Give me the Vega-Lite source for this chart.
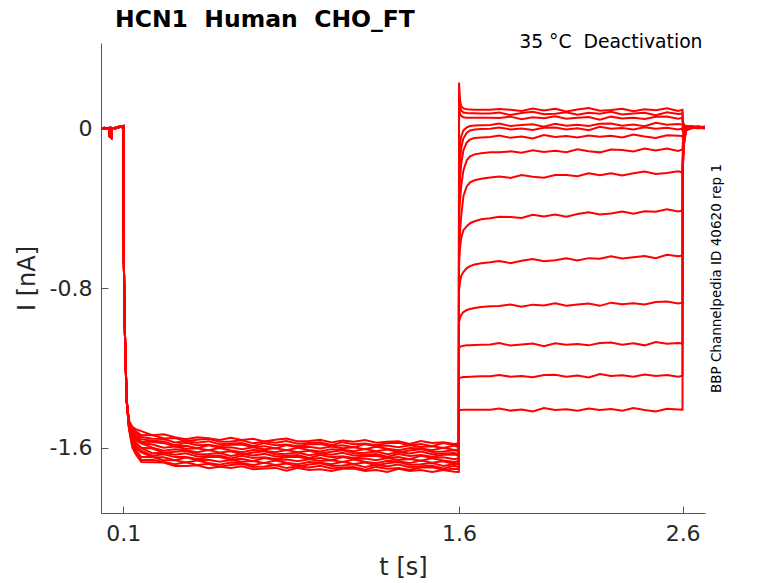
{
  "$schema": "https://vega.github.io/schema/vega-lite/v6.json",
  "width": 604,
  "height": 470,
  "autosize": {"type": "none"},
  "padding": {"left": 101, "top": 43, "right": 73, "bottom": 70},
  "background": "white",
  "config": {"view": {"stroke": null}, "font": "DejaVu Sans"},
  "title": {"text": "HCN1\u00a0\u00a0Human\u00a0\u00a0CHO_FT", "anchor": "start", "frame": "group", "dx": 14, "offset": 1, "fontSize": 23.5, "fontWeight": "bold", "font": "DejaVu Sans", "color": "#000000"},
  "resolve": {"axis": {"y": "independent"}},
  "layer": [
    {
      "data": {"values": [
        {"s": 1, "t": [0,0.015,0.03,0.037,0.039,0.046,0.048,0.065,0.08,0.092,0.0995,0.102,0.107,0.1145,0.125,0.14,0.155,0.18,0.23,0.28,0.33,0.38,0.43,0.48,0.53,0.58,0.63,0.68,0.73,0.78,0.83,0.88,0.93,0.98,1.03,1.08,1.13,1.18,1.23,1.28,1.33,1.38,1.43,1.48,1.53,1.58,1.5995,1.6005,1.605,1.61,1.62,1.635,1.65,1.67,1.7,1.74,1.78,1.83,1.88,1.93,1.98,2.03,2.08,2.13,2.18,2.23,2.28,2.33,2.38,2.43,2.48,2.53,2.58,2.5995,2.6005,2.605,2.615,2.64,2.67,2.7],
         "i": [0.002,-0.003,0.002,0,-0.04,-0.042,0,0.004,0.006,0.01,0.008,-0.66,-1.03,-1.36,-1.465,-1.495,-1.507,-1.517,-1.537,-1.532,-1.547,-1.557,-1.547,-1.552,-1.561,-1.55,-1.561,-1.555,-1.569,-1.56,-1.554,-1.568,-1.566,-1.56,-1.574,-1.564,-1.57,-1.561,-1.575,-1.57,-1.567,-1.581,-1.566,-1.576,-1.573,-1.581,-1.578,0.23,0.14,0.112,0.1,0.096,0.095,0.094,0.094,0.093,0.097,0.094,0.087,0.1,0.09,0.098,0.085,0.095,0.102,0.089,0.092,0.099,0.086,0.096,0.091,0.101,0.088,0.093,0.04,0.02,0.012,0.008,0.01,0.006]},
        {"s": 2, "t": [0,0.015,0.03,0.037,0.039,0.046,0.048,0.065,0.08,0.092,0.0995,0.102,0.107,0.1145,0.125,0.14,0.155,0.18,0.23,0.28,0.33,0.38,0.43,0.48,0.53,0.58,0.63,0.68,0.73,0.78,0.83,0.88,0.93,0.98,1.03,1.08,1.13,1.18,1.23,1.28,1.33,1.38,1.43,1.48,1.53,1.58,1.5995,1.6005,1.605,1.61,1.62,1.635,1.65,1.67,1.7,1.74,1.78,1.83,1.88,1.93,1.98,2.03,2.08,2.13,2.18,2.23,2.28,2.33,2.38,2.43,2.48,2.53,2.58,2.5995,2.6005,2.605,2.615,2.64,2.67,2.7],
         "i": [-0.002,0.003,-0.001,0.003,-0.036,-0.046,0.003,0,0.009,0.006,0.011,-0.66,-1.03,-1.36,-1.468,-1.503,-1.517,-1.537,-1.536,-1.554,-1.551,-1.567,-1.56,-1.555,-1.57,-1.569,-1.563,-1.578,-1.569,-1.575,-1.566,-1.58,-1.576,-1.573,-1.587,-1.572,-1.582,-1.579,-1.587,-1.576,-1.575,-1.587,-1.581,-1.592,-1.576,-1.587,-1.585,0.17,0.11,0.09,0.08,0.077,0.076,0.076,0.075,0.075,0.08,0.067,0.077,0.084,0.071,0.074,0.081,0.068,0.078,0.073,0.083,0.07,0.075,0.079,0.066,0.081,0.072,0.075,0.03,0.015,0.01,0.012,0.006,0.01]},
        {"s": 3, "t": [0,0.015,0.03,0.037,0.039,0.046,0.048,0.065,0.08,0.092,0.0995,0.102,0.107,0.1145,0.125,0.14,0.155,0.18,0.23,0.28,0.33,0.38,0.43,0.48,0.53,0.58,0.63,0.68,0.73,0.78,0.83,0.88,0.93,0.98,1.03,1.08,1.13,1.18,1.23,1.28,1.33,1.38,1.43,1.48,1.53,1.58,1.5995,1.6005,1.605,1.61,1.62,1.635,1.65,1.67,1.7,1.74,1.78,1.83,1.88,1.93,1.98,2.03,2.08,2.13,2.18,2.23,2.28,2.33,2.38,2.43,2.48,2.53,2.58,2.5995,2.6005,2.605,2.615,2.64,2.67,2.7],
         "i": [0.002,-0.003,0.002,0,-0.04,-0.042,0,0.004,0.006,0.01,0.008,-0.66,-1.03,-1.36,-1.471,-1.511,-1.526,-1.546,-1.555,-1.556,-1.574,-1.567,-1.575,-1.567,-1.582,-1.579,-1.576,-1.591,-1.577,-1.587,-1.584,-1.592,-1.582,-1.581,-1.593,-1.587,-1.598,-1.582,-1.593,-1.589,-1.598,-1.588,-1.596,-1.592,-1.601,-1.589,-1.599,0.11,0.075,0.062,0.056,0.054,0.053,0.053,0.053,0.053,0.052,0.059,0.046,0.056,0.051,0.061,0.048,0.053,0.057,0.044,0.059,0.05,0.054,0.047,0.058,0.06,0.049,0.053,0.02,0.012,0.008,0.004,0.009,0.005]},
        {"s": 4, "t": [0,0.015,0.03,0.037,0.039,0.046,0.048,0.065,0.08,0.092,0.0995,0.102,0.107,0.1145,0.125,0.14,0.155,0.18,0.23,0.28,0.33,0.38,0.43,0.48,0.53,0.58,0.63,0.68,0.73,0.78,0.83,0.88,0.93,0.98,1.03,1.08,1.13,1.18,1.23,1.28,1.33,1.38,1.43,1.48,1.53,1.58,1.5995,1.6005,1.605,1.61,1.62,1.635,1.65,1.67,1.7,1.74,1.78,1.83,1.88,1.93,1.98,2.03,2.08,2.13,2.18,2.23,2.28,2.33,2.38,2.43,2.48,2.53,2.58,2.5995,2.6005,2.605,2.615,2.64,2.67,2.7],
         "i": [-0.002,0.003,-0.001,0.003,-0.036,-0.046,0.003,0,0.009,0.006,0.011,-0.66,-1.03,-1.36,-1.474,-1.519,-1.536,-1.558,-1.565,-1.569,-1.587,-1.575,-1.587,-1.585,-1.594,-1.585,-1.584,-1.597,-1.592,-1.603,-1.587,-1.598,-1.595,-1.604,-1.594,-1.602,-1.598,-1.607,-1.595,-1.605,-1.613,-1.601,-1.604,-1.612,-1.6,-1.611,-1.609,-0.15,-0.08,-0.04,-0.01,0.005,0.012,0.015,0.016,0.017,0.025,0.012,0.017,0.021,0.008,0.023,0.014,0.018,0.012,0.023,0.025,0.014,0.02,0.011,0.028,0.018,0.022,0.019,0,0.006,0.01,0.006,0.002,0.007]},
        {"s": 5, "t": [0,0.015,0.03,0.037,0.039,0.046,0.048,0.065,0.08,0.092,0.0995,0.102,0.107,0.1145,0.125,0.14,0.155,0.18,0.23,0.28,0.33,0.38,0.43,0.48,0.53,0.58,0.63,0.68,0.73,0.78,0.83,0.88,0.93,0.98,1.03,1.08,1.13,1.18,1.23,1.28,1.33,1.38,1.43,1.48,1.53,1.58,1.5995,1.6005,1.605,1.61,1.62,1.635,1.65,1.67,1.7,1.74,1.78,1.83,1.88,1.93,1.98,2.03,2.08,2.13,2.18,2.23,2.28,2.33,2.38,2.43,2.48,2.53,2.58,2.5995,2.6005,2.605,2.615,2.64,2.67,2.7],
         "i": [0.002,-0.003,0.002,0,-0.04,-0.042,0,0.004,0.006,0.01,0.008,-0.66,-1.03,-1.36,-1.477,-1.527,-1.545,-1.57,-1.571,-1.577,-1.593,-1.59,-1.603,-1.588,-1.6,-1.598,-1.607,-1.598,-1.607,-1.603,-1.612,-1.6,-1.611,-1.619,-1.607,-1.61,-1.618,-1.606,-1.617,-1.609,-1.623,-1.614,-1.607,-1.621,-1.619,-1.613,-1.618,-0.25,-0.16,-0.1,-0.05,-0.022,-0.01,-0.005,-0.003,-0.002,0.004,-0.005,-0.001,-0.008,0.003,0.005,-0.005,0.001,-0.009,0.008,-0.002,0.002,-0.005,0.006,-0.002,0.003,-0.005,0,-0.02,0,0.006,0.01,0.004,0.002]},
        {"s": 6, "t": [0,0.015,0.03,0.037,0.039,0.046,0.048,0.065,0.08,0.092,0.0995,0.102,0.107,0.1145,0.125,0.14,0.155,0.18,0.23,0.28,0.33,0.38,0.43,0.48,0.53,0.58,0.63,0.68,0.73,0.78,0.83,0.88,0.93,0.98,1.03,1.08,1.13,1.18,1.23,1.28,1.33,1.38,1.43,1.48,1.53,1.58,1.5995,1.6005,1.605,1.61,1.62,1.635,1.65,1.67,1.7,1.74,1.78,1.83,1.88,1.93,1.98,2.03,2.08,2.13,2.18,2.23,2.28,2.33,2.38,2.43,2.48,2.53,2.58,2.5995,2.6005,2.605,2.615,2.64,2.67,2.7],
         "i": [-0.002,0.003,-0.001,0.003,-0.036,-0.046,0.003,0,0.009,0.006,0.011,-0.66,-1.03,-1.36,-1.48,-1.535,-1.555,-1.576,-1.584,-1.6,-1.594,-1.605,-1.603,-1.613,-1.602,-1.614,-1.622,-1.611,-1.615,-1.623,-1.611,-1.622,-1.615,-1.629,-1.62,-1.613,-1.627,-1.625,-1.619,-1.632,-1.623,-1.629,-1.619,-1.633,-1.629,-1.626,-1.632,-0.35,-0.25,-0.18,-0.11,-0.07,-0.055,-0.048,-0.045,-0.043,-0.036,-0.047,-0.041,-0.05,-0.033,-0.043,-0.038,-0.046,-0.035,-0.042,-0.037,-0.045,-0.031,-0.041,-0.048,-0.034,-0.037,-0.038,-0.05,-0.01,0.004,0.002,0.008,0.004]},
        {"s": 7, "t": [0,0.015,0.03,0.037,0.039,0.046,0.048,0.065,0.08,0.092,0.0995,0.102,0.107,0.1145,0.125,0.14,0.155,0.18,0.23,0.28,0.33,0.38,0.43,0.48,0.53,0.58,0.63,0.68,0.73,0.78,0.83,0.88,0.93,0.98,1.03,1.08,1.13,1.18,1.23,1.28,1.33,1.38,1.43,1.48,1.53,1.58,1.5995,1.6005,1.605,1.61,1.62,1.635,1.65,1.67,1.7,1.74,1.78,1.83,1.88,1.93,1.98,2.03,2.08,2.13,2.18,2.23,2.28,2.33,2.38,2.43,2.48,2.53,2.58,2.5995,2.6005,2.605,2.615,2.64,2.67,2.7],
         "i": [0.002,-0.003,0.002,0,-0.04,-0.042,0,0.004,0.006,0.01,0.008,-0.66,-1.03,-1.36,-1.483,-1.543,-1.564,-1.578,-1.6,-1.615,-1.607,-1.613,-1.623,-1.612,-1.624,-1.618,-1.632,-1.624,-1.618,-1.632,-1.63,-1.624,-1.638,-1.629,-1.635,-1.625,-1.639,-1.635,-1.632,-1.645,-1.631,-1.641,-1.637,-1.645,-1.635,-1.634,-1.64,-0.45,-0.36,-0.29,-0.21,-0.16,-0.14,-0.13,-0.125,-0.12,-0.12,-0.115,-0.122,-0.11,-0.118,-0.112,-0.119,-0.105,-0.114,-0.12,-0.106,-0.108,-0.115,-0.101,-0.11,-0.101,-0.113,-0.105,-0.08,-0.02,0.002,0.007,0.003,0.006]},
        {"s": 8, "t": [0,0.015,0.03,0.037,0.039,0.046,0.048,0.065,0.08,0.092,0.0995,0.102,0.107,0.1145,0.125,0.14,0.155,0.18,0.23,0.28,0.33,0.38,0.43,0.48,0.53,0.58,0.63,0.68,0.73,0.78,0.83,0.88,0.93,0.98,1.03,1.08,1.13,1.18,1.23,1.28,1.33,1.38,1.43,1.48,1.53,1.58,1.5995,1.6005,1.605,1.61,1.62,1.635,1.65,1.67,1.7,1.74,1.78,1.83,1.88,1.93,1.98,2.03,2.08,2.13,2.18,2.23,2.28,2.33,2.38,2.43,2.48,2.53,2.58,2.5995,2.6005,2.605,2.615,2.64,2.67,2.7],
         "i": [-0.002,0.003,-0.001,0.003,-0.036,-0.046,0.003,0,0.009,0.006,0.011,-0.66,-1.03,-1.36,-1.486,-1.551,-1.574,-1.6,-1.604,-1.625,-1.62,-1.616,-1.632,-1.631,-1.626,-1.641,-1.632,-1.639,-1.63,-1.644,-1.64,-1.637,-1.651,-1.637,-1.647,-1.643,-1.651,-1.641,-1.64,-1.651,-1.646,-1.657,-1.64,-1.651,-1.648,-1.657,-1.652,-0.62,-0.52,-0.44,-0.34,-0.29,-0.27,-0.26,-0.252,-0.246,-0.241,-0.248,-0.233,-0.242,-0.247,-0.233,-0.234,-0.24,-0.225,-0.234,-0.225,-0.236,-0.225,-0.216,-0.228,-0.223,-0.215,-0.221,-0.12,-0.04,0,0.004,0.009,0.001]},
        {"s": 9, "t": [0,0.015,0.03,0.037,0.039,0.046,0.048,0.065,0.08,0.092,0.0995,0.102,0.107,0.1145,0.125,0.14,0.155,0.18,0.23,0.28,0.33,0.38,0.43,0.48,0.53,0.58,0.63,0.68,0.73,0.78,0.83,0.88,0.93,0.98,1.03,1.08,1.13,1.18,1.23,1.28,1.33,1.38,1.43,1.48,1.53,1.58,1.5995,1.6005,1.605,1.61,1.62,1.635,1.65,1.67,1.7,1.74,1.78,1.83,1.88,1.93,1.98,2.03,2.08,2.13,2.18,2.23,2.28,2.33,2.38,2.43,2.48,2.53,2.58,2.5995,2.6005,2.605,2.615,2.64,2.67,2.7],
         "i": [0.002,-0.003,0.002,0,-0.04,-0.042,0,0.004,0.006,0.01,0.008,-0.66,-1.03,-1.36,-1.489,-1.559,-1.583,-1.602,-1.627,-1.625,-1.635,-1.628,-1.644,-1.641,-1.639,-1.654,-1.64,-1.651,-1.648,-1.656,-1.646,-1.645,-1.657,-1.652,-1.663,-1.646,-1.657,-1.654,-1.663,-1.652,-1.661,-1.657,-1.665,-1.653,-1.664,-1.672,-1.665,-0.68,-0.6,-0.55,-0.51,-0.49,-0.475,-0.465,-0.455,-0.45,-0.443,-0.444,-0.449,-0.433,-0.441,-0.431,-0.442,-0.429,-0.42,-0.431,-0.426,-0.416,-0.427,-0.415,-0.418,-0.405,-0.416,-0.411,-0.16,-0.06,-0.005,0.008,0.002,0.005]},
        {"s": 10, "t": [0,0.015,0.03,0.037,0.039,0.046,0.048,0.065,0.08,0.092,0.0995,0.102,0.107,0.1145,0.125,0.14,0.155,0.18,0.23,0.28,0.33,0.38,0.43,0.48,0.53,0.58,0.63,0.68,0.73,0.78,0.83,0.88,0.93,0.98,1.03,1.08,1.13,1.18,1.23,1.28,1.33,1.38,1.43,1.48,1.53,1.58,1.5995,1.6005,1.605,1.61,1.62,1.635,1.65,1.67,1.7,1.74,1.78,1.83,1.88,1.93,1.98,2.03,2.08,2.13,2.18,2.23,2.28,2.33,2.38,2.43,2.48,2.53,2.58,2.5995,2.6005,2.605,2.615,2.64,2.67,2.7],
         "i": [-0.002,0.003,-0.001,0.003,-0.036,-0.046,0.003,0,0.009,0.006,0.011,-0.66,-1.03,-1.36,-1.492,-1.567,-1.593,-1.615,-1.64,-1.633,-1.647,-1.646,-1.656,-1.647,-1.647,-1.66,-1.655,-1.667,-1.651,-1.662,-1.659,-1.668,-1.658,-1.667,-1.663,-1.671,-1.659,-1.67,-1.678,-1.665,-1.669,-1.677,-1.664,-1.675,-1.668,-1.682,-1.674,-0.81,-0.77,-0.74,-0.72,-0.7,-0.69,-0.682,-0.676,-0.671,-0.664,-0.675,-0.663,-0.654,-0.665,-0.66,-0.651,-0.662,-0.65,-0.653,-0.641,-0.652,-0.645,-0.639,-0.65,-0.633,-0.64,-0.637,-0.2,-0.08,-0.01,0.003,0.006,0.003]},
        {"s": 11, "t": [0,0.015,0.03,0.037,0.039,0.046,0.048,0.065,0.08,0.092,0.0995,0.102,0.107,0.1145,0.125,0.14,0.155,0.18,0.23,0.28,0.33,0.38,0.43,0.48,0.53,0.58,0.63,0.68,0.73,0.78,0.83,0.88,0.93,0.98,1.03,1.08,1.13,1.18,1.23,1.28,1.33,1.38,1.43,1.48,1.53,1.58,1.5995,1.6005,1.605,1.61,1.62,1.635,1.65,1.67,1.7,1.74,1.78,1.83,1.88,1.93,1.98,2.03,2.08,2.13,2.18,2.23,2.28,2.33,2.38,2.43,2.48,2.53,2.58,2.5995,2.6005,2.605,2.615,2.64,2.67,2.7],
         "i": [0.002,-0.003,0.002,0,-0.04,-0.042,0,0.004,0.006,0.01,0.008,-0.66,-1.03,-1.36,-1.495,-1.575,-1.602,-1.623,-1.646,-1.648,-1.663,-1.649,-1.662,-1.66,-1.67,-1.661,-1.67,-1.667,-1.676,-1.664,-1.675,-1.683,-1.671,-1.675,-1.683,-1.67,-1.681,-1.674,-1.688,-1.678,-1.672,-1.686,-1.683,-1.677,-1.691,-1.682,-1.684,-0.97,-0.95,-0.935,-0.92,-0.91,-0.905,-0.9,-0.895,-0.891,-0.89,-0.882,-0.894,-0.883,-0.887,-0.876,-0.888,-0.882,-0.877,-0.889,-0.873,-0.881,-0.876,-0.882,-0.87,-0.867,-0.877,-0.873,-0.22,-0.09,-0.012,0.006,0,0.008]},
        {"s": 12, "t": [0,0.015,0.03,0.037,0.039,0.046,0.048,0.065,0.08,0.092,0.0995,0.102,0.107,0.1145,0.125,0.14,0.155,0.18,0.23,0.28,0.33,0.38,0.43,0.48,0.53,0.58,0.63,0.68,0.73,0.78,0.83,0.88,0.93,0.98,1.03,1.08,1.13,1.18,1.23,1.28,1.33,1.38,1.43,1.48,1.53,1.58,1.5995,1.6005,1.605,1.61,1.62,1.635,1.65,1.67,1.7,1.74,1.78,1.83,1.88,1.93,1.98,2.03,2.08,2.13,2.18,2.23,2.28,2.33,2.38,2.43,2.48,2.53,2.58,2.5995,2.6005,2.605,2.615,2.64,2.67,2.7],
         "i": [-0.002,0.003,-0.001,0.003,-0.036,-0.046,0.003,0,0.009,0.006,0.011,-0.66,-1.03,-1.36,-1.498,-1.583,-1.612,-1.646,-1.647,-1.663,-1.663,-1.674,-1.664,-1.676,-1.685,-1.674,-1.678,-1.687,-1.675,-1.686,-1.679,-1.693,-1.684,-1.678,-1.692,-1.689,-1.683,-1.697,-1.688,-1.693,-1.684,-1.698,-1.693,-1.69,-1.704,-1.69,-1.697,-1.1,-1.095,-1.092,-1.089,-1.087,-1.086,-1.085,-1.084,-1.083,-1.075,-1.088,-1.083,-1.078,-1.091,-1.076,-1.084,-1.08,-1.087,-1.075,-1.073,-1.084,-1.077,-1.087,-1.07,-1.079,-1.075,-1.078,-0.2,-0.08,-0.01,0.002,0.007,0.004]},
        {"s": 13, "t": [0,0.015,0.03,0.037,0.039,0.046,0.048,0.065,0.08,0.092,0.0995,0.102,0.107,0.1145,0.125,0.14,0.155,0.18,0.23,0.28,0.33,0.38,0.43,0.48,0.53,0.58,0.63,0.68,0.73,0.78,0.83,0.88,0.93,0.98,1.03,1.08,1.13,1.18,1.23,1.28,1.33,1.38,1.43,1.48,1.53,1.58,1.5995,1.6005,1.605,1.61,1.62,1.635,1.65,1.67,1.7,1.74,1.78,1.83,1.88,1.93,1.98,2.03,2.08,2.13,2.18,2.23,2.28,2.33,2.38,2.43,2.48,2.53,2.58,2.5995,2.6005,2.605,2.615,2.64,2.67,2.7],
         "i": [0.002,-0.003,0.002,0,-0.04,-0.042,0,0.004,0.006,0.01,0.008,-0.66,-1.03,-1.36,-1.501,-1.591,-1.621,-1.661,-1.66,-1.671,-1.683,-1.673,-1.686,-1.68,-1.695,-1.687,-1.681,-1.696,-1.694,-1.688,-1.702,-1.693,-1.699,-1.69,-1.704,-1.699,-1.696,-1.71,-1.696,-1.705,-1.702,-1.71,-1.699,-1.698,-1.71,-1.705,-1.706,-1.252,-1.25,-1.248,-1.246,-1.245,-1.244,-1.243,-1.242,-1.242,-1.235,-1.244,-1.24,-1.247,-1.236,-1.234,-1.244,-1.238,-1.248,-1.231,-1.241,-1.237,-1.244,-1.233,-1.241,-1.236,-1.244,-1.239,-0.18,-0.07,-0.008,0.005,0.003,0]},
        {"s": 14, "t": [0,0.015,0.03,0.037,0.039,0.046,0.048,0.065,0.08,0.092,0.0995,0.102,0.107,0.1145,0.125,0.14,0.155,0.18,0.23,0.28,0.33,0.38,0.43,0.48,0.53,0.58,0.63,0.68,0.73,0.78,0.83,0.88,0.93,0.98,1.03,1.08,1.13,1.18,1.23,1.28,1.33,1.38,1.43,1.48,1.53,1.58,1.5995,1.6005,1.605,1.61,1.62,1.635,1.65,1.67,1.7,1.74,1.78,1.83,1.88,1.93,1.98,2.03,2.08,2.13,2.18,2.23,2.28,2.33,2.38,2.43,2.48,2.53,2.58,2.5995,2.6005,2.605,2.615,2.64,2.67,2.7],
         "i": [-0.002,0.003,-0.001,0.003,-0.036,-0.046,0.003,0,0.009,0.006,0.011,-0.66,-1.03,-1.36,-1.504,-1.599,-1.631,-1.671,-1.673,-1.674,-1.692,-1.692,-1.688,-1.703,-1.695,-1.702,-1.693,-1.708,-1.704,-1.701,-1.715,-1.701,-1.711,-1.708,-1.716,-1.705,-1.704,-1.716,-1.711,-1.721,-1.705,-1.716,-1.712,-1.721,-1.711,-1.72,-1.721,-1.412,-1.411,-1.411,-1.41,-1.41,-1.41,-1.41,-1.41,-1.41,-1.403,-1.414,-1.408,-1.418,-1.401,-1.411,-1.407,-1.415,-1.404,-1.411,-1.406,-1.414,-1.401,-1.411,-1.418,-1.405,-1.408,-1.409,-0.16,-0.06,-0.006,0.001,0.005,0.006]}
      ]},
      "transform": [{"flatten": ["t", "i"]}],
      "mark": {"type": "line", "color": "#ff0000", "strokeWidth": 2, "clip": true},
      "encoding": {
        "x": {"field": "t", "type": "quantitative",
              "scale": {"domain": [0, 2.7], "nice": false, "zero": false},
              "axis": {"values": [0.1, 1.6, 2.6], "format": ".1f", "title": "t [s]", "grid": false,
                       "tickSize": -7, "tickColor": "#555555", "domainColor": "#555555", "domainWidth": 1, "tickWidth": 1,
                       "labelFontSize": 22, "labelColor": "#262626", "labelFont": "DejaVu Sans", "labelPadding": 17,
                       "titleFontSize": 24, "titleFontWeight": "normal", "titleColor": "#262626", "titleFont": "DejaVu Sans", "titlePadding": 11}},
        "y": {"field": "i", "type": "quantitative",
              "scale": {"domain": [-1.927, 0.428], "nice": false, "zero": false},
              "axis": {"values": [0, -0.8, -1.6], "format": ".1~f", "title": "I [nA]", "grid": false,
                       "labelExpr": "replace(datum.label, '−', '-')",
                       "tickSize": -7, "tickColor": "#555555", "domainColor": "#555555", "domainWidth": 1, "tickWidth": 1,
                       "labelFontSize": 22, "labelColor": "#262626", "labelFont": "DejaVu Sans", "labelPadding": 16,
                       "titleFontSize": 24, "titleFontWeight": "normal", "titleColor": "#262626", "titleFont": "DejaVu Sans", "titlePadding": 10}},
        "detail": {"field": "s", "type": "nominal"}
      }
    },
    {
      "data": {"values": [{}]},
      "mark": {"type": "text", "align": "right", "baseline": "alphabetic", "fontSize": 18.8, "font": "DejaVu Sans", "color": "#000000"},
      "encoding": {
        "x": {"datum": 2.689, "type": "quantitative"},
        "y": {"datum": 0.405, "type": "quantitative",
              "axis": {"orient": "right", "title": "BBP Channelpedia ID 40620 rep 1", "labels": false, "ticks": false, "domain": false, "grid": false,
                       "titleAngle": -90, "titleBaseline": "middle", "titleFontSize": 13.5, "titleFontWeight": "normal", "titleColor": "#000000", "titleFont": "DejaVu Sans", "titlePadding": 11}},
        "text": {"value": "35 °C\u00a0\u00a0Deactivation"}
      }
    }
  ]
}
